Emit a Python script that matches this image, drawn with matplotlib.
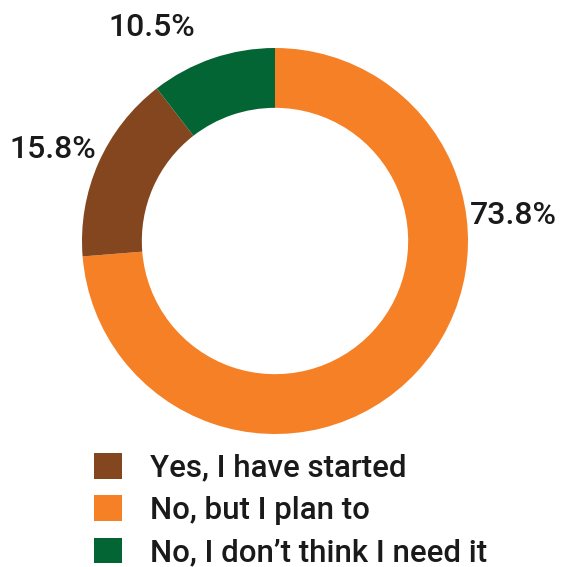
import matplotlib.pyplot as plt
from matplotlib.patches import Patch

# datos
categorias = ['Yes, I have started', 'No, but I plan to', 'No, I don\u2019t think I need it']
valores = [15.8, 73.8, 10.5]
colores = ['#83461E', '#F58025', '#036434']
etiquetas = ['15.8%', '73.8%', '10.5%']

# orden de dibujo en la torta (sentido horario desde arriba)
orden = [1, 0, 2]

plt.rcParams['font.family'] = ['Roboto', 'DejaVu Sans']

fig = plt.figure(figsize=(5.7, 5.67), dpi=100)
ax = fig.add_axes([0, 0, 1, 1])

R = 193
cx, cy = 275, 567 - 241
ax.pie([valores[i] for i in orden], colors=[colores[i] for i in orden],
       startangle=90, counterclock=False, center=(cx, cy), radius=R,
       wedgeprops=dict(width=R * 0.31, linewidth=0))

ax.set_xlim(0, 570)
ax.set_ylim(0, 567)
ax.set_aspect('equal')
ax.axis('off')

# posiciones de las etiquetas (pixeles)
pos_etiquetas = [(53, 150), (513, 216), (152, 28)]
for txt, (x, y) in zip(etiquetas, pos_etiquetas):
    ax.text(x, 567 - y, txt, ha='center', va='center', fontsize=23,
            fontweight='medium', color='#1a1a1a')

handles = [Patch(facecolor=c, edgecolor='none') for c in colores]
fig.legend(handles, categorias, loc='upper left', bbox_to_anchor=(94 / 570, 1 - 453 / 567),
           frameon=False, prop=dict(size=22.5, weight='medium'), borderpad=0, borderaxespad=0,
           handlelength=0.9, handleheight=0.9, handletextpad=0.9, labelspacing=0.4,
           labelcolor='#1a1a1a')

fig.savefig('out.png', dpi=100)
